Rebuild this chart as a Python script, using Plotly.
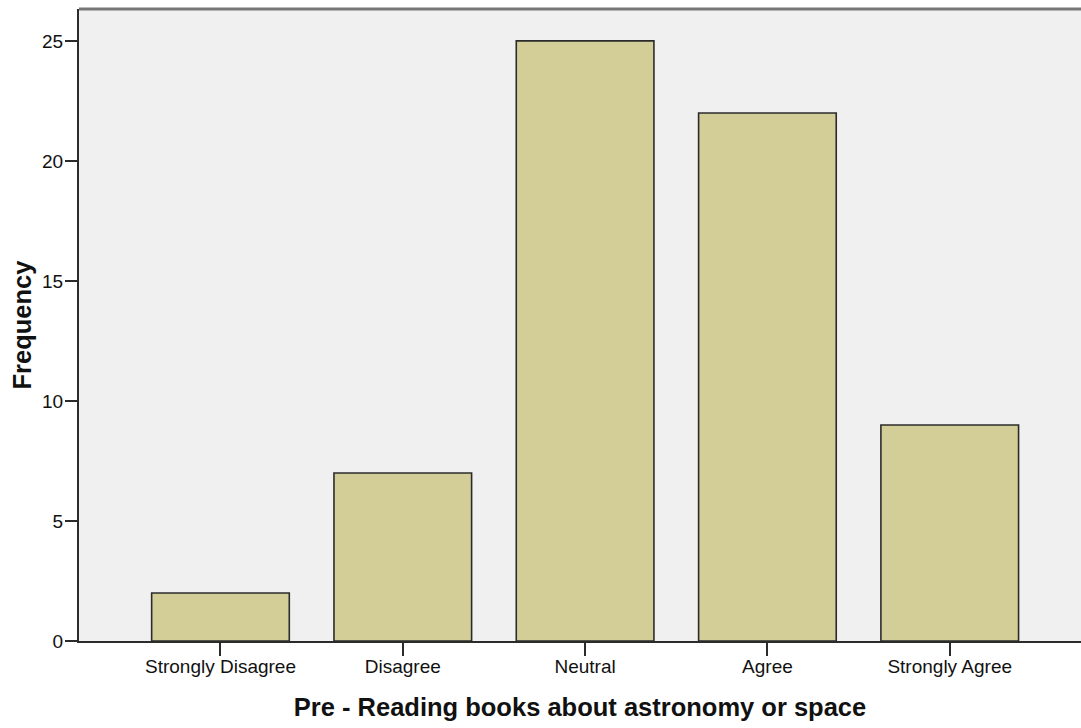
import plotly.graph_objects as go

categories = ["Strongly Disagree", "Disagree", "Neutral", "Agree", "Strongly Agree"]
frequency = [2, 7, 25, 22, 9]
y_ticks = [0, 5, 10, 15, 20, 25]

fig = go.Figure(go.Bar(
    x=list(range(len(categories))),
    y=frequency,
    marker=dict(color="#D3CE97", line=dict(color="#2b2b2b", width=1.6)),
    width=0.755,
))

fig.update_layout(
    width=1081, height=728,
    margin=dict(l=79, r=0, t=9, b=87),
    paper_bgcolor="white",
    plot_bgcolor="#F0F0F0",
    showlegend=False,
    font=dict(family="Liberation Sans, Arial, sans-serif", color="#111111"),
    xaxis=dict(
        range=[-0.776, 4.72],
        tickmode="array",
        tickvals=list(range(len(categories))),
        ticktext=categories,
        ticks="outside", ticklen=13, tickwidth=1.6, tickcolor="#2b2b2b",
        ticklabelstandoff=-6,
        showline=True, linecolor="#2b2b2b", linewidth=2,
        showgrid=False, zeroline=False,
        tickfont=dict(size=19),
        title=dict(text="<b>Pre - Reading books about astronomy or space</b>",
                   font=dict(size=25.5), standoff=22),
    ),
    yaxis=dict(
        range=[0, 26.33],
        tickmode="array", tickvals=y_ticks,
        ticks="outside", ticklen=12, tickwidth=1.6, tickcolor="#2b2b2b",
        ticklabelstandoff=-2,
        showline=True, linecolor="#2b2b2b", linewidth=2,
        showgrid=False, zeroline=False,
        tickfont=dict(size=19),
        title=dict(text="<b>Frequency</b>", font=dict(size=25.5), standoff=3),
    ),
)

fig.add_shape(type="line", xref="paper", yref="paper", x0=0, x1=1, y0=1, y1=1,
              line=dict(color="#777777", width=3))

fig.write_html("out.html", config={"displayModeBar": False})

with open("out.html", "r", encoding="utf-8") as f:
    html = f.read()
html = html.replace("<head>", "<head><style>html,body{margin:0;padding:0;}</style>", 1)
with open("out.html", "w", encoding="utf-8") as f:
    f.write(html)
